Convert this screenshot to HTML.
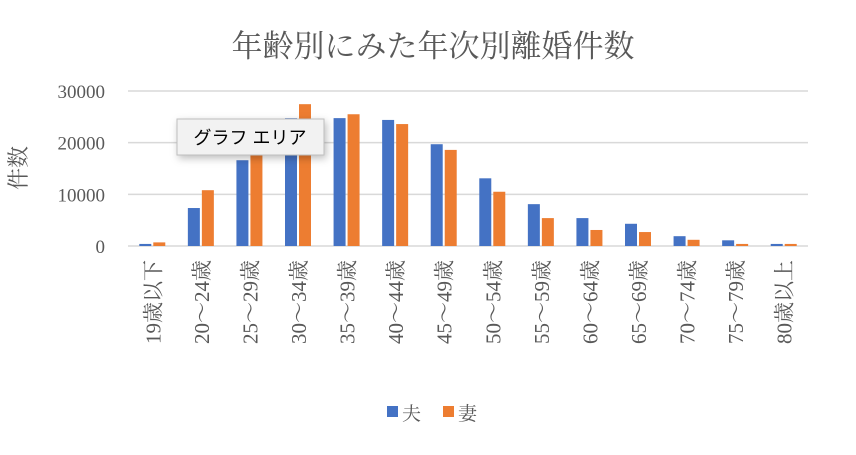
<!DOCTYPE html>
<html><head><meta charset="utf-8"><style>
body{margin:0;background:#fff;}
svg text{font-family:"Liberation Serif","Noto Serif CJK SC",serif;fill:#595959;}
</style></head><body>
<svg width="856" height="450" xmlns="http://www.w3.org/2000/svg">
<rect width="856" height="450" fill="#fff"/>
<text x="433" y="57" font-size="31" text-anchor="middle">年齢別にみた年次別離婚件数</text>
<text transform="translate(26,168) rotate(-90)" font-size="22" text-anchor="middle">件数</text>
<g id="grid"></g><g id="bars"></g><g id="labels"></g>
<g>
<rect x="387" y="406" width="11" height="11" fill="#4472c4"/>
<text x="402" y="420" font-size="19">夫</text>
<rect x="443" y="406" width="11" height="11" fill="#ed7d31"/>
<text x="458" y="420" font-size="19">妻</text>
</g>
<g>
<rect x="177" y="119" width="147" height="36" fill="#f2f2f2" stroke="#bfbfbf" style="filter:drop-shadow(2px 3px 4px rgba(0,0,0,0.25))"/>
<text x="250" y="144" font-size="18" text-anchor="middle" style="fill:#000;font-family:'Liberation Sans','Noto Sans CJK JP',sans-serif">グラフ エリア</text>
</g>
</svg>
<script>
const categories=["19歳以下","20〜24歳","25〜29歳","30〜34歳","35〜39歳","40〜44歳","45〜49歳","50〜54歳","55〜59歳","60〜64歳","65〜69歳","70〜74歳","75〜79歳","80歳以上"];
const husband=[400,7350,16600,24750,24750,24400,19700,13100,8100,5400,4300,1900,1100,400];
const wife=[700,10800,18800,27450,25500,23600,18600,10500,5400,3100,2700,1200,400,400];
const ticks=[0,10000,20000,30000];
const NS="http://www.w3.org/2000/svg";
const x0=128,x1=808,y0=246,yTop=91,max=30000;
const band=(x1-x0)/categories.length;
const yS=v=>y0-(v/max)*(y0-yTop);
const xC=i=>x0+band*(i+0.5);
function mk(t,a,p){const e=document.createElementNS(NS,t);for(const k in a)e.setAttribute(k,a[k]);p.appendChild(e);return e;}
const grid=document.getElementById('grid'),bars=document.getElementById('bars'),labels=document.getElementById('labels');
ticks.forEach(t=>{
 const l=mk('line',{x1:x0,x2:x1,y1:yS(t),y2:yS(t),stroke:'#d9d9d9','stroke-width':1.5},grid);
 
 
 const tx=mk('text',{x:105,y:yS(t)+7,'font-size':19,'text-anchor':'end'},grid);
 tx.textContent=t;
 
 
});
categories.forEach((c,i)=>{
 const bw=12;
 const b=mk('rect',{x:xC(i)-bw-1,y:yS(husband[i]),width:bw,height:y0-yS(husband[i]),fill:'#4472c4'},bars);
 
 
 const w=mk('rect',{x:xC(i)+1,y:yS(wife[i]),width:bw,height:y0-yS(wife[i]),fill:'#ed7d31'},bars);
 
 
 const t=mk('text',{transform:`translate(${xC(i)+8},260) rotate(-90)`,'font-size':21,'text-anchor':'end'},labels);
 t.textContent=c;
 
 
});
</script>
</body></html>
